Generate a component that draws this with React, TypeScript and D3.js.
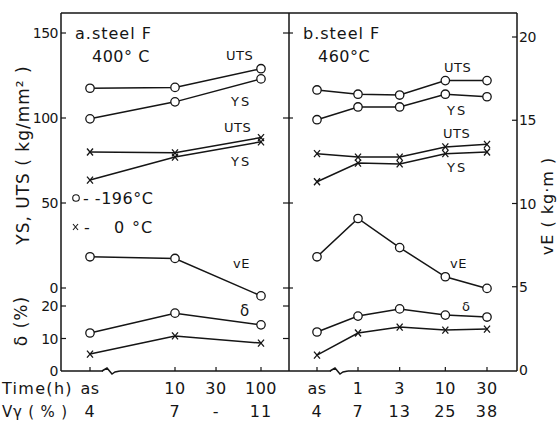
import React from "react";
import * as d3 from "d3";

// ---------- data ----------
const leftTimes: (string | number)[] = ["as", 10, 100];
const leftTickTimes: (string | number)[] = ["as", 10, 30, 100];
const leftTimeLabels = ["as", "10", "30", "100"];
const leftVgLabels = ["4", "7", "-", "11"];
const leftUTS196 = [117.5, 118, 129];
const leftYS196 = [99.5, 109.5, 123];
const leftUTS0 = [80, 79.5, 88.5];
const leftYS0 = [63.5, 77, 86];
const leftVE = [6.8, 6.7, 4.45];
const leftD196 = [11.7, 17.8, 14.2];
const leftD0 = [5.2, 10.8, 8.6];

const rightTimes: (string | number)[] = ["as", 1, 3, 10, 30];
const rightTimeLabels = ["as", "1", "3", "10", "30"];
const rightVgLabels = ["4", "7", "13", "25", "38"];
const rightUTS196 = [116.5, 114, 113.5, 122, 122];
const rightYS196 = [99, 106.5, 106.5, 114, 112.5];
const rightUTS0 = [79, 77, 77, 83, 84.5];
const rightYS0 = [62.5, 73.5, 73, 79, 80];
const rightVE = [6.8, 9.1, 7.35, 5.6, 4.9];
const rightD196 = [12, 16.9, 19.1, 17.2, 16.6];
const rightD0 = [4.9, 11.7, 13.5, 12.6, 12.9];

const strengthTicks = [0, 50, 100, 150];
const deltaTicks = [0, 10, 20];
const veTicks = [0, 5, 10, 15, 20];

// ---------- layout ----------
const W = 559, H = 424;
const X0 = 61, XD = 289, X1 = 517, YT = 13, YB = 371;
const ink = "#151515";
const FONT = "'DejaVu Sans', 'Liberation Sans', sans-serif";

const ySt = d3.scaleLinear().domain([0, 150]).range([288, 33]);
const yD = d3.scaleLinear().domain([0, 20]).range([371, 306]);
const yE = d3.scaleLinear().domain([0, 20]).range([370, 37]);

const xLlog = d3.scaleLog().domain([10, 100]).range([175, 261]);
const xRlog = d3.scaleLog().domain([1, 30]).range([358, 487]);
const xL = (t: string | number) => (t === "as" ? 90 : xLlog(t as number));
const xR = (t: string | number) => (t === "as" ? 317 : xRlog(t as number));

type XF = (t: string | number) => number;

function Series({ times, vals, x, y, mark }: { times: (string | number)[]; vals: number[]; x: XF; y: (v: number) => number; mark: "o" | "x" }) {
  const pts: [number, number][] = vals.map((v, i) => [x(times[i]), y(v)]);
  const line = d3.line()(pts) || "";
  return (
    <g>
      <path d={line} fill="none" stroke={ink} strokeWidth={1.5} />
      {pts.map(([px, py], i) =>
        mark === "o" ? (
          <circle key={i} cx={px} cy={py} r={4.2} fill="#fff" stroke={ink} strokeWidth={1.3} />
        ) : (
          <g key={i} stroke={ink} strokeWidth={1.3}>
            <line x1={px - 3} y1={py - 3.5} x2={px + 3} y2={py + 3.5} />
            <line x1={px + 3} y1={py - 3.5} x2={px - 3} y2={py + 3.5} />
          </g>
        )
      )}
    </g>
  );
}

function T({ x, y, children, size = 15, anchor = "start", rotate, spacing = 0.5 }: any) {
  return (
    <text
      x={x}
      y={y}
      fontSize={size}
      fontFamily={FONT}
      fill={ink}
      textAnchor={anchor}
      letterSpacing={spacing}
      transform={rotate ? `rotate(${rotate},${x},${y})` : undefined}
    >
      {children}
    </text>
  );
}

function breakPath(cx: number) {
  return `M${cx - 8},${YB} L${cx - 3},${YB - 3} L${cx + 2},${YB + 3} L${cx + 5},${YB + 1} L${cx + 10},${YB}`;
}

export default function App() {
  return (
    <svg width={W} height={H} style={{ position: "absolute", left: 0, top: 0, background: "#fff" }}>
      <rect width={W} height={H} fill="#fff" />
      {/* frame */}
      <g stroke={ink} strokeWidth={1.5} fill="none">
        <line x1={X0} y1={YT} x2={X1} y2={YT} />
        <line x1={X0} y1={YT} x2={X0} y2={YB} />
        <line x1={XD} y1={YT} x2={XD} y2={YB} />
        <line x1={X1} y1={YT} x2={X1} y2={YB} />
        <line x1={X0} y1={YB} x2={103} y2={YB} />
        <path d={breakPath(110)} />
        <line x1={120} y1={YB} x2={331} y2={YB} />
        <path d={breakPath(338)} />
        <line x1={348} y1={YB} x2={X1} y2={YB} />
      </g>
      {/* ticks */}
      <g stroke={ink} strokeWidth={1.2}>
        {strengthTicks.map((t) => (
          <line key={"s" + t} x1={X0} x2={X0 + 5} y1={ySt(t)} y2={ySt(t)} />
        ))}
        {deltaTicks.filter((t) => t > 0).map((t) => (
          <line key={"d" + t} x1={X0} x2={X0 + 5} y1={yD(t)} y2={yD(t)} />
        ))}
        {strengthTicks.map((t) => (
          <line key={"ms" + t} x1={XD - 6} x2={XD + 4} y1={ySt(t)} y2={ySt(t)} />
        ))}
        {deltaTicks.filter((t) => t > 0).map((t) => (
          <line key={"md" + t} x1={XD - 6} x2={XD} y1={yD(t)} y2={yD(t)} />
        ))}
        {veTicks.filter((t) => t > 0).map((t) => (
          <line key={"e" + t} x1={X1 - 5} x2={X1} y1={yE(t)} y2={yE(t)} />
        ))}
        {leftTickTimes.map((t, i) => (
          <line key={"bl" + i} x1={xL(t)} x2={xL(t)} y1={YB} y2={YB - 4} />
        ))}
        {rightTimes.map((t, i) => (
          <line key={"br" + i} x1={xR(t)} x2={xR(t)} y1={YB} y2={YB - 4} />
        ))}
      </g>
      {/* tick labels */}
      {strengthTicks.map((t) => (
        <T key={"sl" + t} x={X0 - 3} y={ySt(t) + 5} size={14} anchor="end" spacing={-0.5}>
          {t}
        </T>
      ))}
      {deltaTicks.map((t) => (
        <T key={"dl" + t} x={X0 - 3} y={yD(t) + 5} size={14} anchor="end" spacing={-0.5}>
          {t}
        </T>
      ))}
      {veTicks.map((t) => (
        <T key={"el" + t} x={X1 + 2} y={yE(t) + 5} size={14} spacing={-0.5}>
          {t}
        </T>
      ))}
      {/* axis titles */}
      <T x={29} y={155} size={17} anchor="middle" rotate={-90} spacing={1}>
        YS, UTS ( kg/mm² )
      </T>
      <T x={27} y={321} size={17} anchor="middle" rotate={-90} spacing={1}>
        δ (%)
      </T>
      <T x={553} y={206} size={16} anchor="middle" rotate={-90} spacing={1}>
        vE ( kg·m )
      </T>
      {/* panel titles */}
      <T x={75} y={39} size={16} spacing={1}>a.steel F</T>
      <T x={92} y={62} size={16} spacing={0.5}>400° C</T>
      <T x={303} y={39} size={16} spacing={1}>b.steel F</T>
      <T x={318} y={62} size={16} spacing={0.5}>460°C</T>

      {/* series: left */}
      <Series times={leftTimes} vals={leftUTS196} x={xL} y={ySt} mark="o" />
      <Series times={leftTimes} vals={leftYS196} x={xL} y={ySt} mark="o" />
      <Series times={leftTimes} vals={leftUTS0} x={xL} y={ySt} mark="x" />
      <Series times={leftTimes} vals={leftYS0} x={xL} y={ySt} mark="x" />
      <Series times={leftTimes} vals={leftVE} x={xL} y={yE} mark="o" />
      <Series times={leftTimes} vals={leftD196} x={xL} y={yD} mark="o" />
      <Series times={leftTimes} vals={leftD0} x={xL} y={yD} mark="x" />
      {/* series: right */}
      <Series times={rightTimes} vals={rightUTS196} x={xR} y={ySt} mark="o" />
      <Series times={rightTimes} vals={rightYS196} x={xR} y={ySt} mark="o" />
      <Series times={rightTimes} vals={rightUTS0} x={xR} y={ySt} mark="x" />
      <Series times={rightTimes} vals={rightYS0} x={xR} y={ySt} mark="x" />
      <Series times={rightTimes} vals={rightVE} x={xR} y={yE} mark="o" />
      <Series times={rightTimes} vals={rightD196} x={xR} y={yD} mark="o" />
      <Series times={rightTimes} vals={rightD0} x={xR} y={yD} mark="x" />

      {/* curve labels */}
      <T x={226} y={60} size={13}>UTS</T>
      <T x={231} y={106} size={13} spacing={2}>YS</T>
      <T x={224} y={132} size={13}>UTS</T>
      <T x={231} y={166} size={13} spacing={2}>YS</T>
      <T x={233} y={268} size={13}>vE</T>
      <T x={240} y={316} size={15} spacing={0}>δ</T>
      <T x={444} y={72} size={13}>UTS</T>
      <T x={447} y={115} size={13} spacing={2}>YS</T>
      <T x={443} y={138} size={13}>UTS</T>
      <T x={447} y={172} size={13} spacing={2}>YS</T>
      <T x={450} y={268} size={13}>vE</T>
      <T x={462} y={311} size={13} spacing={0}>δ</T>

      {/* legend */}
      <circle cx={76} cy={198} r={3.3} fill="#fff" stroke={ink} strokeWidth={1.1} />
      <T x={83} y={204} size={16} spacing={0.5}>- -196°C</T>
      <g stroke={ink} strokeWidth={1.1}>
        <line x1={73} y1={224} x2={78} y2={230} />
        <line x1={78} y1={224} x2={73} y2={230} />
      </g>
      <T x={84} y={233} size={16}>-</T>
      <T x={114} y={233} size={16} spacing={0}>0</T>
      <T x={132} y={233} size={16} spacing={1}>°C</T>

      {/* bottom labels */}
      <T x={2} y={394} size={16} spacing={1.3}>Time(h)</T>
      <T x={2} y={417} size={15} spacing={0.8}>Vγ ( % )</T>
      {leftTickTimes.map((t, i) => (
        <T key={"lt" + i} x={xL(t)} y={394} size={16} anchor="middle" spacing={0.5}>
          {leftTimeLabels[i]}
        </T>
      ))}
      {leftTickTimes.map((t, i) => (
        <T key={"lv" + i} x={xL(t)} y={417} size={16} anchor="middle" spacing={1}>
          {leftVgLabels[i]}
        </T>
      ))}
      {rightTimes.map((t, i) => (
        <T key={"rt" + i} x={xR(t)} y={394} size={16} anchor="middle" spacing={0.5}>
          {rightTimeLabels[i]}
        </T>
      ))}
      {rightTimes.map((t, i) => (
        <T key={"rv" + i} x={xR(t)} y={417} size={16} anchor="middle" spacing={1}>
          {rightVgLabels[i]}
        </T>
      ))}
    </svg>
  );
}
